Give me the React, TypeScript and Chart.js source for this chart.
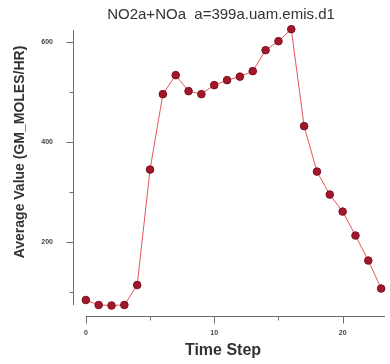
import React, { useEffect, useRef } from "react";
import { Chart, registerables } from "chart.js";

Chart.register(...registerables);

const timeSteps = [0, 1, 2, 3, 4, 5, 6, 7, 8, 9, 10, 11, 12, 13, 14, 15, 16, 17, 18, 19, 20, 21, 22, 23];
const avgValues = [84, 74, 73, 74, 114, 345, 496, 534, 502, 496, 514, 524, 531, 542, 584, 602, 626, 432, 341, 295, 261, 213, 163, 107];
const yMajorTicks = [200, 400, 600];
const yMinorTicks = [100, 300, 500];
const xMajorTicks = [0, 10, 20];
const xMinorTicks = [5, 15];
const chartTitle = "NO2a+NOa  a=399a.uam.emis.d1";
const xTitle = "Time Step";
const yTitle = "Average Value (GM_MOLES/HR)";

const axesPlugin = {
  id: "verdiAxes",
  afterDraw(chart: any) {
    const ctx = chart.ctx;
    const xs = chart.scales.x;
    const ys = chart.scales.y;
    const area = chart.chartArea;
    ctx.save();
    ctx.strokeStyle = "#6e6e6e";
    ctx.lineWidth = 1;
    const ax = Math.round(area.left) + 0.5;
    ctx.beginPath();
    ctx.moveTo(ax, 30);
    ctx.lineTo(ax, 305);
    ctx.stroke();
    for (const v of yMajorTicks) {
      const y = Math.round(ys.getPixelForValue(v)) + 0.5;
      ctx.beginPath();
      ctx.moveTo(ax - 7, y);
      ctx.lineTo(ax, y);
      ctx.stroke();
    }
    for (const v of yMinorTicks) {
      const y = Math.round(ys.getPixelForValue(v)) + 0.5;
      ctx.beginPath();
      ctx.moveTo(ax - 4, y);
      ctx.lineTo(ax, y);
      ctx.stroke();
    }
    const ay = Math.round(area.bottom) + 0.5;
    const x0 = xs.getPixelForValue(0);
    ctx.beginPath();
    ctx.moveTo(x0, ay);
    ctx.lineTo(area.right, ay);
    ctx.stroke();
    for (const v of xMajorTicks) {
      const x = Math.round(xs.getPixelForValue(v)) + 0.5;
      ctx.beginPath();
      ctx.moveTo(x, ay);
      ctx.lineTo(x, ay + 7);
      ctx.stroke();
    }
    for (const v of xMinorTicks) {
      const x = Math.round(xs.getPixelForValue(v)) + 0.5;
      ctx.beginPath();
      ctx.moveTo(x, ay);
      ctx.lineTo(x, ay + 4);
      ctx.stroke();
    }
    ctx.fillStyle = "#333333";
    ctx.textAlign = "center";
    ctx.textBaseline = "middle";
    ctx.font = "15px 'Liberation Sans', Arial, sans-serif";
    ctx.fillText(chartTitle, 221, 15);
    ctx.font = "bold 16px 'Liberation Sans', Arial, sans-serif";
    ctx.fillText(xTitle, 223, 351);
    ctx.translate(20, 152);
    ctx.rotate(-Math.PI / 2);
    ctx.font = "bold 14px 'Liberation Sans', Arial, sans-serif";
    ctx.fillText(yTitle, 0, 0);
    ctx.restore();
  },
};

export default function App() {
  const canvasRef = useRef<HTMLCanvasElement | null>(null);

  useEffect(() => {
    document.body.style.margin = "0";
    const canvas = canvasRef.current;
    if (!canvas) return;
    const chart = new Chart(canvas, {
      type: "line",
      data: {
        labels: timeSteps,
        datasets: [
          {
            data: timeSteps.map((t, i) => ({ x: t, y: avgValues[i] })),
            borderColor: "#e5585a",
            borderWidth: 1,
            backgroundColor: "#a3172a",
            pointBackgroundColor: "#a3172a",
            pointBorderColor: "#7a1020",
            pointBorderWidth: 1,
            pointRadius: 3.8,
            tension: 0,
            clip: false,
          },
        ],
      },
      options: {
        responsive: false,
        animation: false,
        layout: { padding: { top: 24, right: 0, left: 0, bottom: 0 } },
        plugins: {
          legend: { display: false },
          tooltip: { enabled: false },
          title: { display: false },
        },
        scales: {
          x: {
            type: "linear",
            min: -1.0,
            max: 23.3,
            afterFit: (s: any) => {
              s.height = 48;
            },
            afterBuildTicks: (s: any) => {
              s.ticks = xMajorTicks.map((v) => ({ value: v }));
            },
            grid: { display: false, drawTicks: false },
            border: { display: false },
            ticks: {
              padding: 13,
              color: "#444444",
              font: { size: 7, weight: "bold", family: "'Liberation Sans', Arial" },
              maxRotation: 0,
              autoSkip: false,
            },
          },
          y: {
            type: "linear",
            min: 52,
            max: 636,
            afterFit: (s: any) => {
              s.width = 73;
            },
            afterBuildTicks: (s: any) => {
              s.ticks = yMajorTicks.map((v) => ({ value: v }));
            },
            grid: { display: false, drawTicks: false },
            border: { display: false },
            ticks: {
              padding: 20,
              color: "#444444",
              font: { size: 7, weight: "bold", family: "'Liberation Sans', Arial" },
              autoSkip: false,
            },
          },
        },
      },
      plugins: [axesPlugin],
    });
    return () => chart.destroy();
  }, []);

  return (
    <div style={{ position: "absolute", left: 0, top: 0, width: 390, height: 364, background: "#fff" }}>
      <canvas ref={canvasRef} width={390} height={364} />
    </div>
  );
}
